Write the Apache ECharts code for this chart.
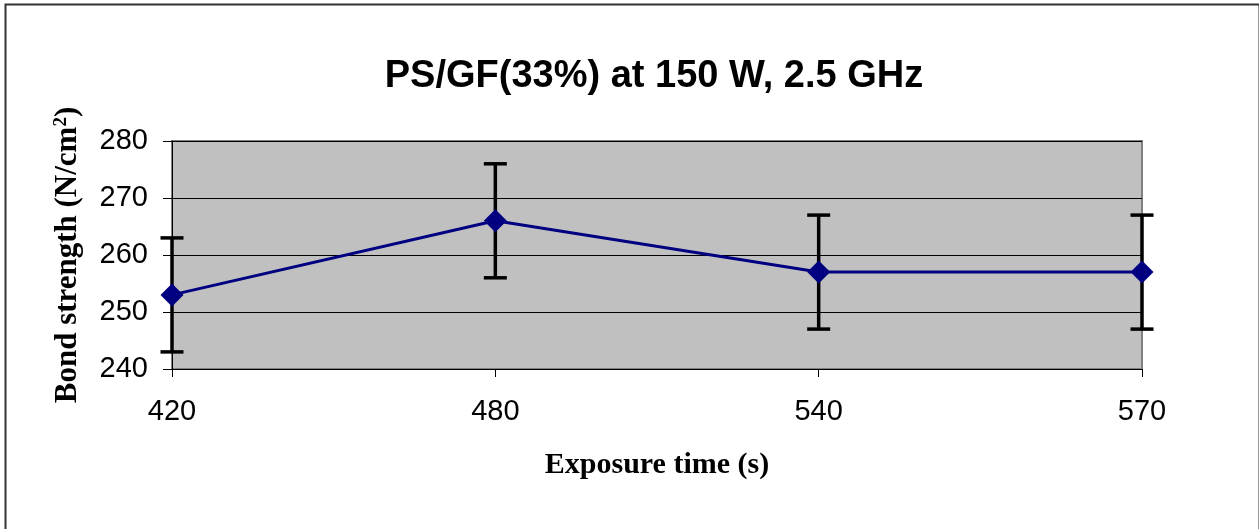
<!DOCTYPE html>
<html><head><meta charset="utf-8">
<script src="https://cdn.jsdelivr.net/npm/echarts@6/dist/echarts.min.js"></script>
<style>html,body{margin:0;padding:0;background:#fff}#c{width:1259px;height:529px}</style>
</head><body><div id="c"></div>
<script>
const categories = ['420', '480', '540', '570'];
const values = [253, 266, 257, 257];
const errors = [10, 10, 10, 10];
const yTicks = [240, 250, 260, 270, 280];

const chart = echarts.init(document.getElementById('c'));
const errData = categories.map((c, i) => [i, values[i] - errors[i], values[i] + errors[i]]);
const serif = 'Liberation Serif, Times New Roman, serif';
const sans = 'Liberation Sans, Arial, sans-serif';

chart.setOption({
  backgroundColor: '#ffffff',
  animation: false,
  title: {
    text: 'PS/GF(33%) at 150 W, 2.5 GHz',
    left: 649, top: 53, textAlign: 'center',
    textStyle: { fontFamily: sans, fontWeight: 'bold', fontSize: 38, color: '#000' }
  },
  graphic: [{
    type: 'rect', left: 3, top: 2, z: 100, silent: true,
    shape: { width: 1254, height: 560 },
    style: { fill: 'none', stroke: '#333', lineWidth: 2 }
  }],
  grid: {
    left: 172, right: 117, top: 141, bottom: 160,
    show: true, backgroundColor: '#c0c0c0', borderColor: '#808080', borderWidth: 2
  },
  xAxis: {
    type: 'category', data: categories, boundaryGap: false,
    name: 'Exposure time (s)', nameLocation: 'middle', nameGap: 81,
    nameTextStyle: { fontFamily: serif, fontWeight: 'bold', fontSize: 30, color: '#000' },
    axisLine: { lineStyle: { color: '#000', width: 1 } },
    axisTick: { show: true, length: 8, alignWithLabel: true, lineStyle: { color: '#000' } },
    axisLabel: { margin: 28, fontFamily: sans, fontSize: 29, color: '#000' },
    splitLine: { show: false }
  },
  yAxis: {
    type: 'value', min: yTicks[0], max: yTicks[yTicks.length - 1], interval: 10,
    name: 'Bond strength (N/cm{sup|2})', nameLocation: 'middle', nameGap: 89,
    nameTextStyle: {
      fontFamily: serif, fontWeight: 'bold', fontSize: 31, color: '#000',
      rich: { sup: { fontFamily: serif, fontWeight: 'bold', fontSize: 19, color: '#000', verticalAlign: 'top', padding: [0, 0, 10, 0] } }
    },
    axisLine: { show: true, lineStyle: { color: '#000', width: 1 } },
    axisTick: { show: true, length: 9, lineStyle: { color: '#000' } },
    axisLabel: { margin: 24, fontFamily: sans, fontSize: 29, color: '#000' },
    splitLine: { show: true, lineStyle: { color: '#000', width: 1 } }
  },
  series: [
    {
      type: 'custom', z: 2,
      data: errData,
      renderItem: function (params, api) {
        const x = api.value(0);
        const lo = api.coord([x, api.value(1)]);
        const hi = api.coord([x, api.value(2)]);
        const w = 11.5;
        const st = { stroke: '#000', lineWidth: 3.5 };
        return {
          type: 'group',
          children: [
            { type: 'line', shape: { x1: lo[0], y1: lo[1], x2: hi[0], y2: hi[1] }, style: st },
            { type: 'line', shape: { x1: lo[0] - w, y1: lo[1], x2: lo[0] + w, y2: lo[1] }, style: st },
            { type: 'line', shape: { x1: hi[0] - w, y1: hi[1], x2: hi[0] + w, y2: hi[1] }, style: st }
          ]
        };
      }
    },
    {
      type: 'line', z: 5, data: values,
      symbol: 'diamond', symbolSize: 23,
      itemStyle: { color: '#000080' },
      lineStyle: { color: '#000080', width: 3 }
    }
  ]
});
</script></body></html>
